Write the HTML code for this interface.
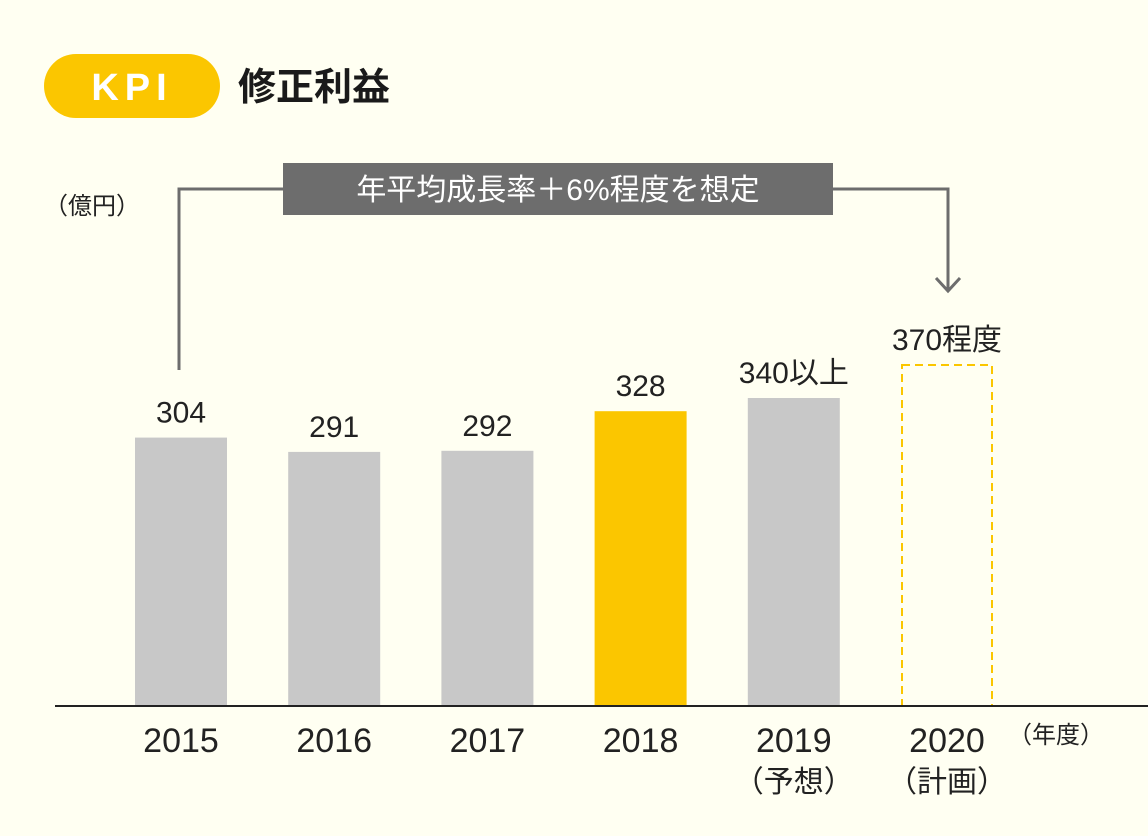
<!DOCTYPE html>
<html><head><meta charset="utf-8">
<style>
body{margin:0;background:#fffff2;}
svg{display:block;font-family:"Liberation Sans","Noto Sans CJK JP",sans-serif;}
</style></head><body>
<svg width="1148" height="836" viewBox="0 0 1148 836">
<rect width="1148" height="836" fill="#fffff2"/>
<rect x="44" y="54" width="176" height="64" rx="32" fill="#fbc600"/>
<text x="132" y="100" text-anchor="middle" font-size="38" font-weight="bold" fill="#fff" letter-spacing="6">KPI</text>
<text x="238" y="100" font-size="38" font-weight="bold" fill="#1a1a1a">修正利益</text>
<text x="44" y="214" font-size="24" fill="#222">（億円）</text>
<polyline points="179,370 179,189 283,189" fill="none" stroke="#6d6d6d" stroke-width="3"/>
<polyline points="833,189 948,189 948,290" fill="none" stroke="#6d6d6d" stroke-width="3"/>
<polyline points="936,278 948,291 960,278" fill="none" stroke="#6d6d6d" stroke-width="3"/>
<rect x="283" y="163" width="550" height="52" fill="#6d6d6d"/>
<text x="558" y="200" text-anchor="middle" font-size="30" fill="#fff">年平均成長率＋6%程度を想定</text>
<g id="bars"></g>
<line x1="55" y1="706" x2="1148" y2="706" stroke="#222" stroke-width="2"/>
<text x="1008" y="743" font-size="24" fill="#222">（年度）</text>
</svg>
<script>
const categories=["2015","2016","2017","2018","2019","2020"];
const subLabels=["","","","","（予想）","（計画）"];
const values=[304,291,292,328,340,370];
const valueLabels=["304","291","292","328","340以上","370程度"];
const kinds=["actual","actual","actual","highlight","forecast","plan"];
const ns="http://www.w3.org/2000/svg";
const g=document.getElementById("bars");
const base=706, slope=1.1, v0=60;
function y(v){return base-(v-v0)*slope;}
function xc(i){return 181+i*153.2;}
function mk(t,a){const e=document.createElementNS(ns,t);for(const k in a)e.setAttribute(k,a[k]);g.appendChild(e);return e;}
categories.forEach((c,i)=>{
  const top=y(values[i]),cx=xc(i);
  let r;
  if(kinds[i]==="plan"){
    r=mk("rect",{x:cx-45,y:top,width:90,height:base-top,fill:"none",stroke:"#fbc600","stroke-width":2,"stroke-dasharray":"8,5"});
  }else{
    r=mk("rect",{x:cx-46,y:top,width:92,height:base-top,fill:kinds[i]==="highlight"?"#fbc600":"#c8c8c8"});
  }
  
  
  const vt=mk("text",{x:cx,y:top-15,"text-anchor":"middle","font-size":30,fill:"#222"});
  vt.textContent=valueLabels[i];
  
  
  const ct=mk("text",{x:cx,y:752,"text-anchor":"middle","font-size":34,fill:"#222"});
  ct.textContent=c;
  
  
  if(subLabels[i]){
    const st=mk("text",{x:cx,y:792,"text-anchor":"middle","font-size":30,fill:"#222"});
    st.textContent=subLabels[i];
    
    
  }
});
</script>
</body></html>
